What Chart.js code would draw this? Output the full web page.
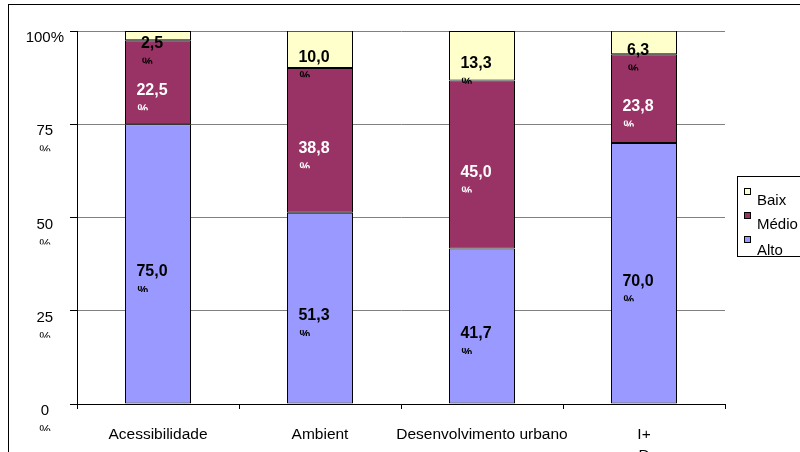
<!DOCTYPE html>
<html>
<head>
<meta charset="utf-8">
<script src="https://cdn.jsdelivr.net/npm/chart.js@4"></script>
<style>
html, body { margin: 0; padding: 0; background: #fff; }
</style>
</head>
<body>
<canvas id="myChart" width="800" height="452"></canvas>
<script>
// données du graphique
var categorias = ['Acessibilidade', 'Ambient', 'Desenvolvimento urbano', ['I+', 'D']];
var alto = [75.0, 51.3, 41.7, 70.0];
var medio = [22.5, 38.8, 45.0, 23.8];
var baixo = [2.5, 10.0, 13.3, 6.3];
var valoresY = [0, 25, 50, 75, 100];
var rotulosY = ['0', '25', '50', '75', '100%'];

var FONTE = 'Arial, "Liberation Sans", sans-serif';

// étiquettes, cadre et légende dessinés à la main
var decor = {
    id: 'decor',
    beforeDraw: function(chart) {
        var ctx = chart.ctx;
        ctx.save();
        ctx.fillStyle = '#fff';
        ctx.fillRect(0, 0, chart.width, chart.height);
        ctx.strokeStyle = '#000';
        ctx.lineWidth = 1;
        ctx.strokeRect(8.5, 4.5, 900, 900);
        ctx.restore();
    },
    afterDatasetsDraw: function(chart) {
        var ctx = chart.ctx;
        ctx.save();
        chart.data.datasets.forEach(function(ds, i) {
            var meta = chart.getDatasetMeta(i);
            meta.data.forEach(function(bar, j) {
                var centro = (bar.y + bar.base) / 2;
                var txt = ds.data[j].toFixed(1).replace('.', ',');
                ctx.fillStyle = i == 1 ? '#fff' : '#000';
                ctx.font = 'bold 16px ' + FONTE;
                ctx.textAlign = 'center';
                ctx.textBaseline = 'middle';
                var cx = bar.x - 6;
                ctx.fillText(txt, cx, centro + 8);
                var esq = cx - ctx.measureText(txt).width / 2;
                // le % coupé en dessous
                ctx.save();
                ctx.beginPath();
                ctx.rect(esq - 2, centro + 22, 20, 6);
                ctx.clip();
                ctx.font = 'bold 12px ' + FONTE;
                ctx.textAlign = 'left';
                ctx.textBaseline = 'top';
                ctx.fillText('%', esq + 1, centro + 21);
                ctx.restore();
            });
        });
        ctx.restore();
    },
    afterDraw: function(chart) {
        var ctx = chart.ctx;
        var y = chart.scales.y;
        ctx.save();
        // les % sous les valeurs de l'axe
        valoresY.forEach(function(v) {
            if (v == 100) return;
            var py = y.getPixelForValue(v);
            ctx.save();
            ctx.beginPath();
            ctx.rect(35, py + 21, 20, 6);
            ctx.clip();
            ctx.fillStyle = '#000';
            ctx.font = '13px ' + FONTE;
            ctx.textAlign = 'center';
            ctx.textBaseline = 'top';
            ctx.fillText('%', 45, py + 20);
            ctx.restore();
        });
        // légende
        ctx.strokeStyle = '#000';
        ctx.lineWidth = 1;
        ctx.strokeRect(737.5, 176.5, 100, 80);
        var itens = [
            { txt: 'Baix', cor: '#FFFFCC', yq: 188, yt: 201 },
            { txt: 'Médio', cor: '#993366', yq: 212, yt: 225 },
            { txt: 'Alto', cor: '#9999FF', yq: 236, yt: 251 }
        ];
        ctx.font = '15px ' + FONTE;
        ctx.textAlign = 'left';
        ctx.textBaseline = 'middle';
        itens.forEach(function(it) {
            ctx.fillStyle = it.cor;
            ctx.fillRect(744.5, it.yq + 0.5, 6, 6);
            ctx.strokeRect(744.5, it.yq + 0.5, 6, 6);
            ctx.fillStyle = '#000';
            ctx.fillText(it.txt, 757, it.yt);
        });
        ctx.restore();
    }
};

var ctx = document.getElementById('myChart').getContext('2d');
var myChart = new Chart(ctx, {
    type: 'bar',
    data: {
        labels: categorias,
        datasets: [{
            label: 'Alto',
            data: alto,
            backgroundColor: '#9999FF'
        }, {
            label: 'Médio',
            data: medio,
            backgroundColor: '#993366'
        }, {
            label: 'Baixo',
            data: baixo,
            backgroundColor: '#FFFFCC'
        }]
    },
    options: {
        responsive: false,
        animation: false,
        devicePixelRatio: 1,
        layout: { padding: { left: 0, top: 31, right: 75, bottom: 0 } },
        datasets: {
            bar: {
                borderColor: '#000',
                borderWidth: 1,
                borderSkipped: false,
                categoryPercentage: 1,
                barPercentage: 66 / 162
            }
        },
        plugins: {
            legend: { display: false },
            tooltip: { enabled: false }
        },
        scales: {
            x: {
                stacked: true,
                afterFit: function(s) { s.height = 48; },
                grid: {
                    drawOnChartArea: false,
                    tickLength: 5,
                    tickColor: '#000',
                    offset: true
                },
                border: { color: '#000', width: 1 },
                ticks: {
                    color: '#000',
                    font: { family: FONTE, size: 15.5, lineHeight: 1.3 },
                    padding: 16,
                    maxRotation: 0,
                    autoSkip: false
                }
            },
            y: {
                stacked: true,
                min: 0,
                max: 100,
                afterFit: function(s) { s.width = 77; },
                afterBuildTicks: function(s) {
                    s.ticks = valoresY.map(function(v) { return { value: v }; });
                },
                grid: {
                    color: function(c) { return c.tick && c.tick.value == 0 ? '#000' : '#808080'; },
                    tickColor: '#000',
                    tickLength: 7
                },
                border: { color: '#000', width: 1 },
                ticks: {
                    color: '#000',
                    font: { family: FONTE, size: 15 },
                    padding: 6,
                    crossAlign: 'center',
                    labelOffset: 7,
                    callback: function(v) {
                        return rotulosY[valoresY.indexOf(v)];
                    }
                }
            }
        }
    },
    plugins: [decor]
});
</script>
</body>
</html>
